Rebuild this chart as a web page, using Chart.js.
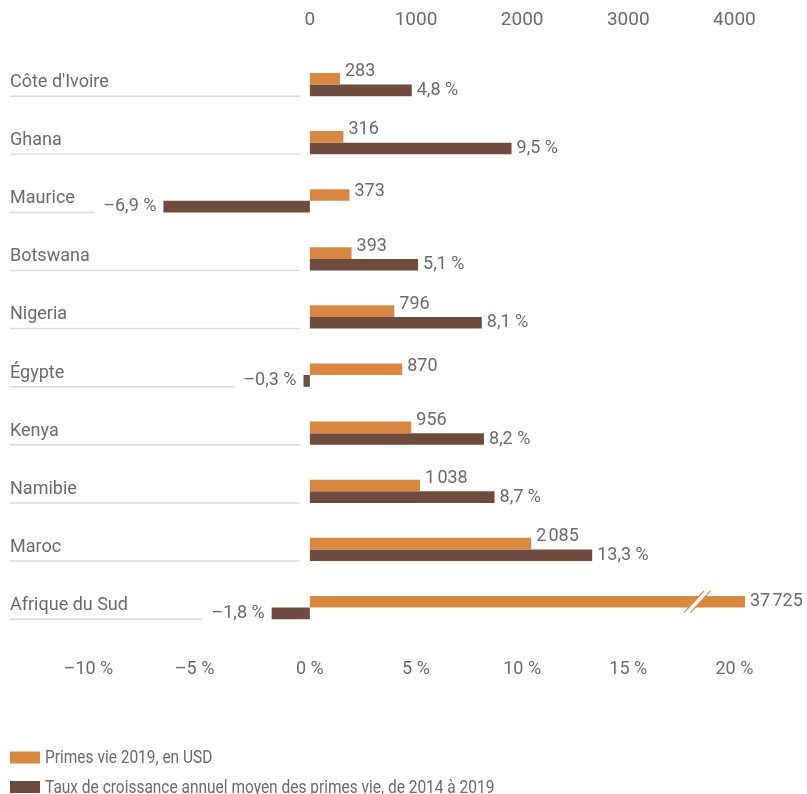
<!DOCTYPE html>
<html lang="fr">
<head>
<meta charset="utf-8">
<script src="https://cdn.jsdelivr.net/npm/chart.js@4.4.1/dist/chart.umd.min.js"></script>
<style>
  html, body { margin: 0; padding: 0; background: #fff; }
  #wrap { width: 807px; height: 794px; }
</style>
</head>
<body>
<div id="wrap"><canvas id="lifeChart" width="807" height="794"></canvas></div>
<script>
// Primes vie 2019 et croissance annuelle moyenne 2014-2019
const countries = ["Côte d'Ivoire", 'Ghana', 'Maurice', 'Botswana', 'Nigeria', 'Égypte', 'Kenya', 'Namibie', 'Maroc', 'Afrique du Sud'];
const premiums = [283, 316, 373, 393, 796, 870, 956, 1038, 2085, 37725];
const growth = [4.8, 9.5, -6.9, 5.1, 8.1, -0.3, 8.2, 8.7, 13.3, -1.8];
const premiumTicks = [0, 1000, 2000, 3000, 4000];
const growthTicks = [-10, -5, 0, 5, 10, 15, 20];
const seriesLabels = ['Primes vie 2019, en USD', 'Taux de croissance annuel moyen des primes vie, de 2014 à 2019'];

const ORANGE = '#d88840';
const BROWN = '#6e4b3e';
const TEXT = '#6b6b6b';
const FONT = 'Roboto, "Liberation Sans", sans-serif';

const NNBSP = '\u202f';
const fmtInt = v => String(v).replace(/\B(?=(\d{3})+(?!\d))/g, NNBSP);
const fmtPct = v => (v < 0 ? '–' : '') + Math.abs(v).toFixed(1).replace('.', ',') + ' %';
// negative ticks get a trailing em space so the digits sit on the tick, not the dash
const fmtTickPct = v => (v < 0 ? '–' + Math.abs(v) + ' %\u2003' : v + ' %');

// labels, underlines, break mark and legend
const decorPlugin = {
  id: 'decor',
  afterDatasetsDraw(chart) {
    const ctx = chart.ctx;
    const area = chart.chartArea;
    const x2 = chart.scales.x2;
    const y = chart.scales.y;
    const metaP = chart.getDatasetMeta(0);
    const metaG = chart.getDatasetMeta(1);
    ctx.save();
    ctx.font = '18px ' + FONT;
    ctx.fillStyle = TEXT;
    ctx.textBaseline = 'middle';

    countries.forEach((name, i) => {
      const pb = metaP.data[i];
      const gb = metaG.data[i];
      const rowY = y.getPixelForValue(i);
      const bottom = gb.y + gb.height / 2;

      // premium value
      const clipped = pb.x > area.right;
      const px = Math.min(pb.x, area.right) + 5;
      const dy = clipped ? 0 : (growth[i] >= 0 ? -7 : -3);
      ctx.textAlign = 'left';
      ctx.fillText(fmtInt(premiums[i]), px, pb.y + dy);

      // growth value
      let lineEnd = 300;
      if (growth[i] >= 0) {
        ctx.textAlign = 'left';
        ctx.fillText(fmtPct(growth[i]), gb.x + 5, gb.y);
      } else {
        ctx.textAlign = 'right';
        const t = fmtPct(growth[i]);
        ctx.fillText(t, gb.x - 7, gb.y);
        lineEnd = Math.min(300, gb.x - 7 - ctx.measureText(t).width - 9);
      }

      // category name with underline
      ctx.textAlign = 'left';
      ctx.fillText(name, 10, rowY - 2);
      ctx.strokeStyle = '#dadada';
      ctx.lineWidth = 1.5;
      ctx.beginPath();
      ctx.moveTo(10, bottom);
      ctx.lineTo(lineEnd, bottom);
      ctx.stroke();

      // break mark on the truncated bar
      if (clipped) {
        const cx = x2.getPixelForValue(3650);
        const t = pb.y - pb.height / 2 - 5;
        const b = pb.y + pb.height / 2 + 5;
        ctx.strokeStyle = '#fff';
        ctx.lineWidth = 5;
        ctx.beginPath();
        ctx.moveTo(cx - 10, b);
        ctx.lineTo(cx + 10, t);
        ctx.stroke();
        ctx.strokeStyle = ORANGE;
        ctx.lineWidth = 1.2;
        [-3.2, 3.2].forEach(o => {
          ctx.beginPath();
          ctx.moveTo(cx - 10 + o, b);
          ctx.lineTo(cx + 10 + o, t);
          ctx.stroke();
        });
      }
    });

    // legend
    const colors = [ORANGE, BROWN];
    seriesLabels.forEach((label, k) => {
      const ly = 757.5 + k * 29.5;
      ctx.fillStyle = colors[k];
      ctx.fillRect(10, ly - 6, 30, 12);
      ctx.fillStyle = TEXT;
      ctx.textAlign = 'left';
      ctx.save();
      ctx.translate(45, ly + 1);
      ctx.scale(0.86, 1);
      ctx.fillText(label, 0, 0);
      ctx.restore();
    });
    ctx.restore();
  }
};

const ctx = document.getElementById('lifeChart').getContext('2d');
const lifeChart = new Chart(ctx, {
  type: 'bar',
  data: {
    labels: countries,
    datasets: [{
      label: seriesLabels[0],
      data: premiums,
      xAxisID: 'x2',
      backgroundColor: ORANGE,
      borderWidth: 0,
      clip: 0
    }, {
      label: seriesLabels[1],
      data: growth,
      xAxisID: 'x',
      backgroundColor: BROWN,
      borderWidth: 0
    }]
  },
  options: {
    indexAxis: 'y',
    responsive: false,
    animation: false,
    layout: { padding: { left: 87, right: 62, top: 8, bottom: 114 } },
    datasets: {
      bar: { categoryPercentage: 0.4, barPercentage: 1.0 }
    },
    scales: {
      y: { display: false },
      x: {
        position: 'bottom',
        min: -10.5,
        max: 20.5,
        grid: { display: false, drawTicks: false },
        border: { display: false },
        afterBuildTicks: s => { s.ticks = growthTicks.map(v => ({ value: v })); },
        afterFit: s => { s.height = 43.4; },
        ticks: {
          padding: 21.6,
          color: TEXT,
          font: { family: FONT, size: 18 },
          maxRotation: 0,
          callback: v => fmtTickPct(v)
        }
      },
      x2: {
        position: 'top',
        min: -2100,
        max: 4100,
        grid: { display: false, drawTicks: false },
        border: { display: false },
        afterBuildTicks: s => { s.ticks = premiumTicks.map(v => ({ value: v })); },
        afterFit: s => { s.height = 47.5; },
        ticks: {
          padding: 24.1,
          color: TEXT,
          font: { family: FONT, size: 19 },
          maxRotation: 0,
          callback: v => String(v)
        }
      }
    },
    plugins: {
      legend: { display: false },
      tooltip: { enabled: false }
    }
  },
  plugins: [decorPlugin]
});
</script>
</body>
</html>
